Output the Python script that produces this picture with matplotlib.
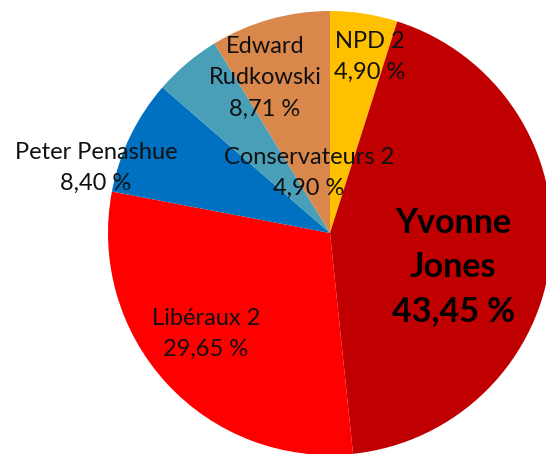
import matplotlib.pyplot as plt

# Données du graphique
partis = ['NPD 2', 'Yvonne\nJones', 'Libéraux 2', 'Peter Penashue', 'Conservateurs 2', 'Edward\nRudkowski']
pourcentages = [4.90, 43.45, 29.65, 8.40, 4.90, 8.71]
couleurs = ['#FFC000', '#C00000', '#FF0000', '#0070C0', '#4A9FB8', '#D9874A']

# Position des étiquettes (pixels depuis le haut)
pos_etiquettes = [(370, 57), (453, 267), (206, 334), (96, 168), (309, 173), (265, 78)]

plt.rcParams['font.family'] = ['Lato', 'DejaVu Sans']

fig = plt.figure(figsize=(5.46, 4.54), dpi=100)
ax = fig.add_axes([0, 0, 1, 1])

ax.pie(pourcentages, colors=couleurs, startangle=90, counterclock=False,
       center=(330, 454 - 233), radius=222, frame=True)

for i in range(len(partis)):
    txt = partis[i] + '\n' + f'{pourcentages[i]:.2f}'.replace('.', ',') + ' %'
    x, y = pos_etiquettes[i]
    if i == 1:
        ax.text(x, 454 - y, txt, ha='center', va='center', fontsize=24.5,
                fontweight='bold', linespacing=1.45)
    else:
        ax.text(x, 454 - y, txt, ha='center', va='center', fontsize=17,
                color='#111111', linespacing=1.6)

ax.set_xlim(0, 546)
ax.set_ylim(0, 454)
ax.set_aspect('equal')
ax.axis('off')

plt.savefig('out.png', dpi=100)
